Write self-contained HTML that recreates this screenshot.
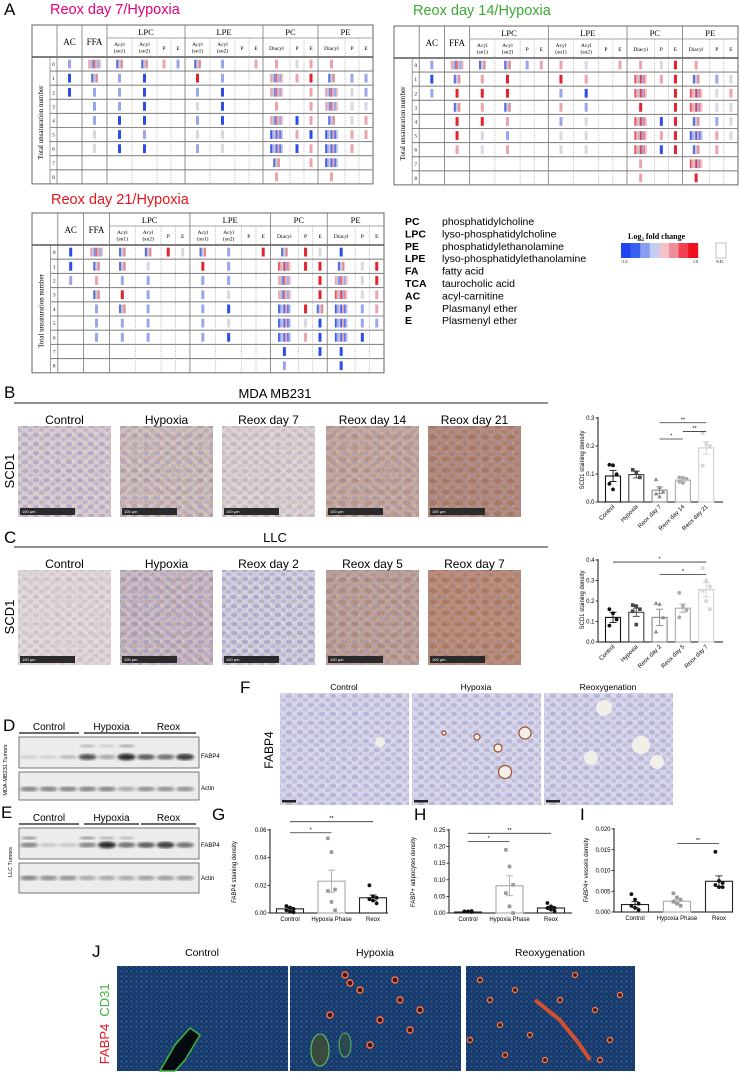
<!DOCTYPE html>
<html><head><meta charset="utf-8">
<style>
body{margin:0;background:#fff;width:740px;height:1073px;overflow:hidden}
svg{display:block;font-family:"Liberation Sans",sans-serif}
</style></head>
<body>
<svg id="fig" width="740" height="1073" viewBox="0 0 740 1073">
<defs>
  <pattern id="cellsL" width="11" height="9" patternUnits="userSpaceOnUse">
    <ellipse cx="3" cy="3" rx="3.2" ry="2.3" fill="#8a86c2" opacity="0.55"/>
    <ellipse cx="8.5" cy="7" rx="2.6" ry="2" fill="#9b97cc" opacity="0.5"/>
    <circle cx="7" cy="2" r="0.9" fill="#fff" opacity="0.5"/>
  </pattern>
  <pattern id="brownL" width="13" height="11" patternUnits="userSpaceOnUse">
    <ellipse cx="4" cy="8" rx="4" ry="2.6" fill="#94502e" opacity="0.35"/>
    <ellipse cx="10" cy="3" rx="2.5" ry="2" fill="#a0603a" opacity="0.3"/>
  </pattern>
  <pattern id="nuc" width="5" height="5" patternUnits="userSpaceOnUse">
    <circle cx="1.5" cy="1.5" r="1.2" fill="#3a78c8" opacity="0.7"/>
    <circle cx="4" cy="3.8" r="1" fill="#2a5aa8" opacity="0.7"/>
  </pattern>
  <filter id="blur1"><feGaussianBlur stdDeviation="1.3"/></filter>
</defs>

<text x="4" y="15" font-size="17">A</text>
<text x="50" y="14" font-size="14.5" fill="#e5007d">Reox day 7/Hypoxia</text>
<text x="413" y="15" font-size="14.5" fill="#3aa935">Reox day 14/Hypoxia</text>
<text x="51" y="204" font-size="14.5" fill="#e3161f">Reox day 21/Hypoxia</text>

<g font-size="10.5">
  <text x="405" y="225" font-weight="bold">PC</text><text x="442" y="225">phosphatidylcholine</text>
  <text x="405" y="237.4" font-weight="bold">LPC</text><text x="442" y="237.4">lyso-phosphatidylcholine</text>
  <text x="405" y="249.8" font-weight="bold">PE</text><text x="442" y="249.8">phosphatidylethanolamine</text>
  <text x="405" y="262.2" font-weight="bold">LPE</text><text x="442" y="262.2">lyso-phosphatidylethanolamine</text>
  <text x="405" y="274.6" font-weight="bold">FA</text><text x="442" y="274.6">fatty acid</text>
  <text x="405" y="287" font-weight="bold">TCA</text><text x="442" y="287">taurocholic acid</text>
  <text x="405" y="299.4" font-weight="bold">AC</text><text x="442" y="299.4">acyl-carnitine</text>
  <text x="405" y="311.8" font-weight="bold">P</text><text x="442" y="311.8">Plasmanyl ether</text>
  <text x="405" y="324.2" font-weight="bold">E</text><text x="442" y="324.2">Plasmenyl ether</text>
</g>
<g font-family="Liberation Serif, serif">
  <text x="628" y="239" font-size="8" font-weight="bold">Log<tspan font-size="5" dy="2">2</tspan><tspan dy="-2"> fold change</tspan></text>
  <rect x="621" y="243" width="10" height="15" fill="#1f45f0"/>
  <rect x="630.6" y="243" width="10" height="15" fill="#3b60f0"/>
  <rect x="640.2" y="243" width="10" height="15" fill="#8a9cf0"/>
  <rect x="649.8" y="243" width="10" height="15" fill="#c4ccf2"/>
  <rect x="659.4" y="243" width="10" height="15" fill="#f4c2c6"/>
  <rect x="669" y="243" width="10" height="15" fill="#f08e98"/>
  <rect x="678.6" y="243" width="10" height="15" fill="#f04050"/>
  <rect x="688.2" y="243" width="10" height="15" fill="#f00f1e"/>
  <text x="621" y="263" font-size="4">-1.0</text>
  <text x="693" y="263" font-size="4">1.0</text>
  <rect x="716" y="243" width="10" height="15" fill="#fff" stroke="#999" stroke-width="0.6"/>
  <text x="716" y="263" font-size="4">N.D.</text>
</g>

<text x="4" y="398" font-size="17">B</text>
<text x="275" y="398" font-size="13" text-anchor="middle">MDA MB231</text>
<line x1="14" y1="403" x2="548" y2="403" stroke="#222" stroke-width="1"/>
<text x="14" y="471" font-size="13" text-anchor="middle" transform="rotate(-90 14 471)">SCD1</text>

<text x="4" y="543" font-size="17">C</text>
<text x="275" y="542" font-size="13" text-anchor="middle">LLC</text>
<line x1="14" y1="547" x2="548" y2="547" stroke="#222" stroke-width="1"/>
<text x="14" y="617" font-size="13" text-anchor="middle" transform="rotate(-90 14 617)">SCD1</text>

<text x="3" y="731" font-size="17">D</text>
<text x="1" y="818" font-size="17">E</text>
<text x="5" y="768" font-size="5.5" text-anchor="middle" transform="rotate(-90 7 768)">MDA-MB231 Tumors</text>
<text x="10" y="860" font-size="5.5" text-anchor="middle" transform="rotate(-90 12 860)">LLC Tumors</text>

<text x="240" y="693" font-size="17">F</text>
<text x="273" y="750" font-size="12" text-anchor="middle" transform="rotate(-90 273 750)">FABP4</text>
<text x="344" y="690" font-size="8.5" text-anchor="middle">Control</text>
<text x="476" y="690" font-size="8.5" text-anchor="middle">Hypoxia</text>
<text x="608" y="690" font-size="8.5" text-anchor="middle">Reoxygenation</text>

<text x="212" y="820" font-size="17">G</text>
<text x="414" y="820" font-size="17">H</text>
<text x="580" y="820" font-size="17">I</text>

<text x="92" y="957" font-size="17">J</text>
<text x="202" y="956" font-size="10.5" text-anchor="middle">Control</text>
<text x="375" y="956" font-size="10.5" text-anchor="middle">Hypoxia</text>
<text x="550" y="956" font-size="10.5" text-anchor="middle">Reoxygenation</text>
<text x="109" y="1000" font-size="13" fill="#3cb43c" text-anchor="middle" transform="rotate(-90 109 1000)">CD31</text>
<text x="109" y="1044" font-size="13" fill="#e3161f" text-anchor="middle" transform="rotate(-90 109 1044)">FABP4</text>
</svg>

<script>
const NS='http://www.w3.org/2000/svg';
const fig=document.getElementById('fig');
function mk(tag,attrs,parent){const e=document.createElementNS(NS,tag);for(const k in attrs)e.setAttribute(k,attrs[k]);(parent||fig).appendChild(e);return e;}
function tx(str,attrs,parent){const e=mk('text',attrs,parent);e.textContent=str;return e;}

const t1Rows=["bMmmrbmb.rrgrr..","BmbB..Rb..MrRmbb","BbbB..bB..M.rMgb",".bbB..gB..r.rMgg",".bBB..bB..MBrmgr",".gBb..gg..XrBXrr",".gBB..bg..XBrXr.","..........m.rX..","..........r..r.."];
const t2Rows=["bMmmbrrg.rrgRr..","BmrR..Rr..YrRmbg","bRRR..bB..Y.RYgr",".mrm..rb..R.RYgg",".RRr..bg..YBRmbg",".Rgb..gg..YrRXrg",".rgr..gg..YBRmr.","..........r..Y..","..........r..R.."];
const t3Rows=["BMmmRgmb.RmRgB..","Bmmg..Rb..YRRmgR","brbb..bb..M.RMgR",".mRb..bg..M.RYgr",".bmb..bB..XRmXbr",".bbb..bg..XgBXbb",".bbb..bB..XrBXB.","..........B.BB..","..........b..B.."];

const colB=[0,18,25,50,75,100,125,139,153,178,203,217,231,258,272,286,313,327,341];
const solidIdx=[0,1,2,3,4,8,12,15,18];
const singleCol={B:'#2a4ee6',b:'#98a6ee',R:'#e3232e',r:'#eea3aa',g:'#d8d8e2'};
const stripeSets={
 m:['#5d6fe0','#c8c8d6','#e08a94'],
 M:['#eaa4ac','#c6c6d4','#7688e4','#e26a76','#d6bcc8','#98a6ec','#ecb6bc'],
 X:['#3a5ce8','#9aa8ee','#c6c6d4','#4a66e6','#e8a0a8','#6076e6','#b0bcee'],
 Y:['#e8505c','#f0a8ae','#c6c6d4','#e43a48','#98a6ec','#ee7c86','#f4c4c8']};

function drawTable(name,rows,x0,y0,w,hh,rh){
  const g=mk('g',{});
  
  
  const s=w/341, X=v=>x0+v*s;
  const H=hh+rh*rows.length;
  const serif='Liberation Serif, serif';
  mk('rect',{x:x0,y:y0,width:w,height:H,fill:'none',stroke:'#666','stroke-width':1},g);
  mk('line',{x1:X(75),y1:y0+13,x2:X(341),y2:y0+13,stroke:'#888','stroke-width':0.7},g);
  mk('line',{x1:x0,y1:y0+hh,x2:x0+w,y2:y0+hh,stroke:'#555','stroke-width':1.4},g);
  for(let r=1;r<rows.length;r++){
    mk('line',{x1:X(18),y1:y0+hh+r*rh,x2:x0+w,y2:y0+hh+r*rh,stroke:'#8a8a8a','stroke-width':1.1},g);
  }
  colB.forEach((c,i)=>{
    if(i===0||i===colB.length-1)return;
    const solid=solidIdx.includes(i);
    const top=(solid? y0 : y0+13);
    if(i===1){mk('line',{x1:X(c),y1:y0+hh,x2:X(c),y2:y0+H,stroke:'#777','stroke-width':0.7},g);return;}
    mk('line',{x1:X(c),y1:top,x2:X(c),y2:y0+H,stroke:solid?'#777':'#999','stroke-width':solid?0.8:0.6,'stroke-dasharray':solid?'none':'1.2,1.2'},g);
  });
  tx('AC',{x:X(37.5),y:y0+20,'font-size':9,'text-anchor':'middle','font-family':serif},g);
  tx('FFA',{x:X(62.5),y:y0+20,'font-size':9,'text-anchor':'middle','font-family':serif},g);
  [['LPC',114],['LPE',192],['PC',258.5],['PE',313.5]].forEach(([t,c])=>tx(t,{x:X(c),y:y0+10,'font-size':8.5,'text-anchor':'middle','font-family':serif},g));
  const subs=[['Acyl',87.5,'(sn1)'],['Acyl',112.5,'(sn2)'],['P',132],['E',146],['Acyl',165.5,'(sn1)'],['Acyl',190.5,'(sn2)'],['P',210],['E',224],['Diacyl',244.5],['P',265],['E',279],['Diacyl',299.5],['P',320],['E',334]];
  subs.forEach(sb=>{
    if(sb[2]){tx(sb[0],{x:X(sb[1]),y:y0+21,'font-size':5.5,'text-anchor':'middle','font-family':serif},g);
      tx(sb[2],{x:X(sb[1]),y:y0+27.5,'font-size':5.5,'text-anchor':'middle','font-family':serif},g);}
    else tx(sb[0],{x:X(sb[1]),y:y0+25,'font-size':5.5,'text-anchor':'middle','font-family':serif},g);
  });
  const cyL=y0+hh+rh*rows.length/2;
  tx('Total unsaturation number',{x:X(9),y:cyL,'font-size':7,'text-anchor':'middle','font-family':serif,transform:`rotate(-90 ${X(11)} ${cyL})`},g);
  rows.forEach((row,r)=>{
    const cy=y0+hh+r*rh+rh/2;
    tx(String(r),{x:X(21.5),y:cy+2,'font-size':5,'text-anchor':'middle','font-family':serif},g);
    for(let c=0;c<16;c++){
      const code=row[c]; if(code==='.'||!code)continue;
      const cx=(X(colB[c+2])+X(colB[c+3]))/2;
      const hgt=rh*0.62;
      if(singleCol[code]){
        const m=mk('rect',{x:cx-1.5,y:cy-hgt/2,width:3,height:hgt,fill:singleCol[code]},g);
        
        
      } else {
        const set=stripeSets[code], sw=code==='m'?2.2:1.8, tw=set.length*sw;
        set.forEach((col,k)=>{
          const m=mk('rect',{x:cx-tw/2+k*sw,y:cy-hgt/2,width:sw,height:hgt,fill:col},g);
          
          
        });
      }
    }
  });
}
drawTable('heatmap-table-day7',t1Rows,32,25,341,32,14.1);
drawTable('heatmap-table-day14',t2Rows,394,26,344,32,14.1);
drawTable('heatmap-table-day21',t3Rows,32,213,352,32,14.2);

function ihc(name,x,y,w,h,base,a,b,bar,barW){
  const g=mk('g',{});
  
  
  mk('rect',{x,y,width:w,height:h,fill:base},g);
  mk('rect',{x,y,width:w,height:h,fill:'url(#cellsL)',opacity:a},g);
  mk('rect',{x,y,width:w,height:h,fill:'url(#brownL)',opacity:b},g);
  if(bar){
    mk('rect',{x:x+2,y:y+h-9,width:barW,height:7,fill:'#2a2a2a'},g);
    tx('100 µm',{x:x+4,y:y+h-4,'font-size':4,fill:'#fff'},g);
  } else {
    mk('rect',{x:x+2,y:y+h-5,width:14,height:2.5,fill:'#222'},g);
  }
  return g;
}
const imgX=[18,120,222,326,428];
const bLabels=['Control','Hypoxia','Reox day 7','Reox day 14','Reox day 21'];
const bBase=['#d8ccd0','#d0c0bc','#ddd3d0','#c6aa9e','#b48b7b'];
const bA=[0.8,0.7,0.55,0.6,0.5], bBr=[0.2,0.45,0.2,0.6,0.95];
imgX.forEach((x,i)=>{
  ihc('ihc-mda-'+i,x,426,93,91,bBase[i],bA[i],bBr[i],true,55);
  tx(bLabels[i],{x:x+46.5,y:424,'font-size':12,'text-anchor':'middle'});
});
const cLabels=['Control','Hypoxia','Reox day 2','Reox day 5','Reox day 7'];
const cBase=['#e2dad8','#c9bcc2','#d2d0dc','#bfa398','#ba8d78'];
const cA=[0.4,0.8,0.9,0.6,0.45], cBr=[0.2,0.45,0.2,0.75,0.95];
imgX.forEach((x,i)=>{
  ihc('ihc-llc-'+i,x,570,93,95,cBase[i],cA[i],cBr[i],true,55);
  tx(cLabels[i],{x:x+46.5,y:568,'font-size':12,'text-anchor':'middle'});
});
[280,412,544].forEach((x,i)=>ihc('ihc-fabp4-'+i,x,693,129,112,'#d6d6ea',0.7,0.12,false));
[[525,733,6],[498,748,4],[505,772,6.5],[444,733,2],[477,737,3]].forEach(c=>mk('circle',{cx:c[0],cy:c[1],r:c[2],fill:'#f4efe8',stroke:'#a0502a','stroke-width':1.2}));
[[380,742,5],[604,708,8],[641,745,9],[591,758,7],[657,762,7]].forEach(c=>mk('circle',{cx:c[0],cy:c[1],r:c[2],fill:'#f2eee8'}));

[[117,171],[290,171],[466,169]].forEach((p,i)=>{
  const g=mk('g',{});
  
  
  mk('rect',{x:p[0],y:966,width:p[1],height:105,fill:'#173764'},g);
  mk('rect',{x:p[0],y:966,width:p[1],height:105,fill:'url(#nuc)',opacity:0.75},g);
});
mk('path',{d:'M160 1071 L175 1045 L190 1028 L200 1035 L185 1060 L175 1071 Z',fill:'#050a10',stroke:'#3cb43c','stroke-width':1.5});
[[345,975],[350,983],[360,990],[395,980],[400,1000],[380,1020],[410,1030],[330,1015],[370,1045],[420,1010]].forEach(c=>mk('circle',{cx:c[0],cy:c[1],r:3,fill:'#3a1010',stroke:'#ff7040','stroke-width':1.4}));
mk('ellipse',{cx:320,cy:1050,rx:9,ry:16,fill:'#3a4a40',stroke:'#5ab45a','stroke-width':1.3});
mk('ellipse',{cx:345,cy:1045,rx:6,ry:12,fill:'#2a4a50',stroke:'#5ab45a','stroke-width':1});
mk('path',{d:'M535 1000 L560 1020 L580 1045 L590 1060',fill:'none',stroke:'#d05030','stroke-width':4});
[[480,980],[490,1000],[500,1025],[515,990],[530,1035],[545,1060],[560,1000],[575,975],[595,1010],[610,1040],[620,995],[505,1055],[470,1040],[600,1060]].forEach(c=>mk('circle',{cx:c[0],cy:c[1],r:2.5,fill:'#401a10',stroke:'#ff7a48','stroke-width':1.2}));

const dFabp4=[0.15,0.15,0.25,0.75,0.35,0.95,0.7,0.6,0.85];
const dFabp4Upper=[0,0,0,0.3,0.2,0.4,0,0,0];
const dActin=[0.5,0.5,0.5,0.5,0.5,0.35,0.45,0.45,0.45];
const eFabp4=[0.5,0.2,0.2,0.5,0.95,0.6,0.7,0.85,0.6];
const eFabp4Upper=[0.5,0,0,0.5,0.35,0.3,0,0,0];
const eActin=[0.5,0.45,0.45,0.35,0.35,0.35,0.4,0.4,0.4];
function blot(name,y0,h,vals,upper,bandY,upY,label,ly){
  const g=mk('g',{});
  
  
  mk('rect',{x:19,y:y0,width:180,height:h,fill:'#ececec',stroke:'#555','stroke-width':0.8},g);
  vals.forEach((v,i)=>{const cx=29+i*19.5;
    if(v>0)mk('ellipse',{cx,cy:bandY,rx:9,ry:1.5+v*2,fill:'#111',opacity:Math.min(1,v*0.9),filter:'url(#blur1)'},g);
    if(upper&&upper[i]>0)mk('ellipse',{cx,cy:upY,rx:8,ry:1.3,fill:'#222',opacity:upper[i],filter:'url(#blur1)'},g);
  });
  tx(label,{x:201,y:ly,'font-size':6},g);
}
blot('blot-mda-fabp4',737,31,dFabp4,dFabp4Upper,757,746,'FABP4',758);
blot('blot-mda-actin',772,28,dActin,null,789,0,'Actin',790);
blot('blot-llc-fabp4',828,31,eFabp4,eFabp4Upper,845,838,'FABP4',847);
blot('blot-llc-actin',863,30,eActin,null,878,0,'Actin',880);
[[733,730],[824,821]].forEach(([ly,ty])=>{
  [[19,79,'Control'],[84,139,'Hypoxia'],[141,196,'Reox']].forEach(s=>{
    mk('line',{x1:s[0],y1:ly,x2:s[1],y2:ly,stroke:'#111','stroke-width':1.3});
    tx(s[2],{x:(s[0]+s[1])/2,y:ty,'font-size':10,'text-anchor':'middle'});
  });
});

const bCats=['Control','Hypoxia','Reox day 7','Reox day 14','Reox day 21'];
const bMeans=[0.093,0.098,0.042,0.078,0.193];
const bErrs=[0.02,0.012,0.012,0.007,0.022];
const bPts=[[0.133,0.131,0.099,0.065,0.045],[0.115,0.106,0.088],[0.081,0.052,0.037,0.030,0.020],[0.088,0.087,0.083,0.072,0.068],[0.247,0.207,0.200,0.130]];
const bTicks=[0,0.1,0.2,0.3];
const bSig=[[2,3,0.225,'*'],[3,4,0.252,'**'],[2,4,0.283,'**']];

const cCats=['Control','Hypoxia','Reox day 2','Reox day 5','Reox day 7'];
const cMeans=[0.12,0.145,0.12,0.165,0.255];
const cErrs=[0.025,0.02,0.04,0.02,0.035];
const cPts=[[0.16,0.14,0.11,0.08],[0.18,0.175,0.16,0.15,0.085],[0.19,0.185,0.12,0.05],[0.24,0.175,0.155,0.12],[0.36,0.30,0.27,0.25,0.20,0.16]];
const cTicks=[0,0.1,0.2,0.3,0.4];
const cSig=[[2,4,0.33,'*'],[0,4,0.39,'*']];

const gCats=['Control','Hypoxia Phase','Reox'];
const gMeans=[0.003,0.023,0.011];
const gErrs=[0.001,0.008,0.002];
const gPts=[[0.005,0.004,0.003,0.002,0.001,0.0005],[0.054,0.044,0.017,0.016,0.008,0.002],[0.020,0.012,0.011,0.010,0.009,0.007]];
const gTicks=[0,0.02,0.04,0.06];
const gSig=[[0,1,0.058,'*'],[0,2,0.066,'**']];

const hCats=['Control','Hypoxia Phase','Reox'];
const hMeans=[0.003,0.082,0.015];
const hErrs=[0.001,0.03,0.005];
const hPts=[[0.005,0.004,0.003,0.004,0.005,0.006],[0.19,0.14,0.085,0.06,0.02,0.0],[0.03,0.02,0.015,0.015,0.01,0.005]];
const hTicks=[0,0.05,0.1,0.15,0.2,0.25];
const hSig=[[0,1,0.215,'*'],[0,2,0.24,'**']];

const iCats=['Control','Hypoxia Phase','Reox'];
const iMeans=[0.0018,0.0026,0.0074];
const iErrs=[0.0007,0.0005,0.0013];
const iPts=[[0.0043,0.003,0.002,0.0015,0.001,0.0005],[0.0045,0.0035,0.003,0.0025,0.002,0.0015],[0.0145,0.0075,0.007,0.0065,0.006,0.006]];
const iTicks=[0,0.005,0.01,0.015,0.02];
const iSig=[[1,2,0.0165,'**']];

function marker(shape,cx,cy,col,g){
  let m;
  if(shape==='square')m=mk('rect',{x:cx-1.8,y:cy-1.8,width:3.6,height:3.6,fill:col},g);
  else if(shape==='triangle')m=mk('path',{d:`M${cx} ${cy-2.2}L${cx+2.2} ${cy+1.8}L${cx-2.2} ${cy+1.8}Z`,fill:col},g);
  else m=mk('circle',{cx,cy,r:1.9,fill:col},g);
  
  
}
function drawChart(name,geo,cats,means,errs,pts,ticks,dec,sig,title,style){
  const g=mk('g',{});
  
  
  const ymax=ticks[ticks.length-1];
  const Y=v=>geo.y0-(v/ymax)*(geo.y0-geo.ytop);
  const Xc=i=>geo.x1+geo.step*i;
  mk('line',{x1:geo.ax,y1:geo.ytop-1,x2:geo.ax,y2:geo.y0,stroke:'#111','stroke-width':1},g);
  mk('line',{x1:geo.ax,y1:geo.y0,x2:geo.xEnd,y2:geo.y0,stroke:'#111','stroke-width':1},g);
  ticks.forEach(t=>{
    mk('line',{x1:geo.ax-2.5,y1:Y(t),x2:geo.ax,y2:Y(t),stroke:'#111','stroke-width':0.8},g);
    const lab=tx(t.toFixed(dec),{x:geo.ax-3.5,y:Y(t)+2,'font-size':geo.fs,'text-anchor':'end'},g);
    
    
  });
  const yt=tx(title,{x:geo.tx,y:geo.ty,'font-size':geo.fs,'text-anchor':'middle',transform:`rotate(-90 ${geo.tx} ${geo.ty})`},g);
  
  
  cats.forEach((c,i)=>{
    const cx=Xc(i);
    const bar=mk('rect',{x:cx-geo.bw/2,y:Y(means[i]),width:geo.bw,height:geo.y0-Y(means[i]),fill:'#fff',stroke:style.bar[i],'stroke-width':1.1},g);
    
    
    const e1=Y(means[i]+errs[i]), e2=Y(Math.max(0,means[i]-errs[i]));
    mk('line',{x1:cx,y1:e1,x2:cx,y2:e2,stroke:style.bar[i],'stroke-width':0.9},g);
    mk('line',{x1:cx-3.5,y1:e1,x2:cx+3.5,y2:e1,stroke:style.bar[i],'stroke-width':0.9},g);
    mk('line',{x1:cx-3.5,y1:e2,x2:cx+3.5,y2:e2,stroke:style.bar[i],'stroke-width':0.9},g);
    pts[i].forEach((v,k)=>marker(style.shape[i],cx+((k%3)-1)*3.6,Y(v),style.pt[i],g));
    let lab;
    if(geo.rot){
      lab=tx(c,{x:cx+2,y:geo.y0+5,'font-size':geo.fs,'text-anchor':'end',transform:`rotate(-45 ${cx+2} ${geo.y0+5})`},g);
    } else {
      lab=tx(c,{x:cx,y:geo.y0+8,'font-size':geo.fs,'text-anchor':'middle'},g);
    }
    
    
  });
  sig.forEach(s=>{
    const l=mk('line',{x1:Xc(s[0]),y1:Y(s[2]),x2:Xc(s[1]),y2:Y(s[2]),stroke:'#333','stroke-width':0.8},g);
    
    
    tx(s[3],{x:(Xc(s[0])+Xc(s[1]))/2,y:Y(s[2])-1.5,'font-size':5.5,'text-anchor':'middle'},g);
  });
}
const fiveStyle={bar:['#111','#444','#888','#aaa','#cfcfcf'],pt:['#111','#444','#888','#aaa','#d6d6d6'],shape:['circle','square','triangle','circle','square']};
const threeStyle={bar:['#222','#aaa','#222'],pt:['#111','#999','#111'],shape:['circle','square','circle']};
drawChart('chart-scd1-mda',{ax:598,y0:502,ytop:418,xEnd:723,x1:613,step:23.3,bw:15,rot:true,fs:6,tx:584,ty:460},bCats,bMeans,bErrs,bPts,bTicks,1,bSig,'SCD1 staining density',fiveStyle);
drawChart('chart-scd1-llc',{ax:598,y0:642,ytop:560,xEnd:723,x1:613,step:23.3,bw:15,rot:true,fs:6,tx:584,ty:600},cCats,cMeans,cErrs,cPts,cTicks,1,cSig,'SCD1 staining density',fiveStyle);
drawChart('chart-fabp4-staining',{ax:270,y0:913,ytop:830,xEnd:388,x1:290,step:41.5,bw:27,rot:false,fs:6,tx:236,ty:872},gCats,gMeans,gErrs,gPts,gTicks,2,gSig,'FABP4 staining density',threeStyle);
drawChart('chart-fabp-adipocytes',{ax:449,y0:913,ytop:830,xEnd:572,x1:468,step:41.5,bw:27,rot:false,fs:6,tx:415,ty:872},hCats,hMeans,hErrs,hPts,hTicks,2,hSig,'FABP+ adipocytes density',threeStyle);
drawChart('chart-fabp4-vessels',{ax:614,y0:912,ytop:829,xEnd:733,x1:635,step:42,bw:27,rot:false,fs:6,tx:588,ty:870},iCats,iMeans,iErrs,iPts,iTicks,3,iSig,'FABP4+ vessels density',threeStyle);
</script>
</body></html>
